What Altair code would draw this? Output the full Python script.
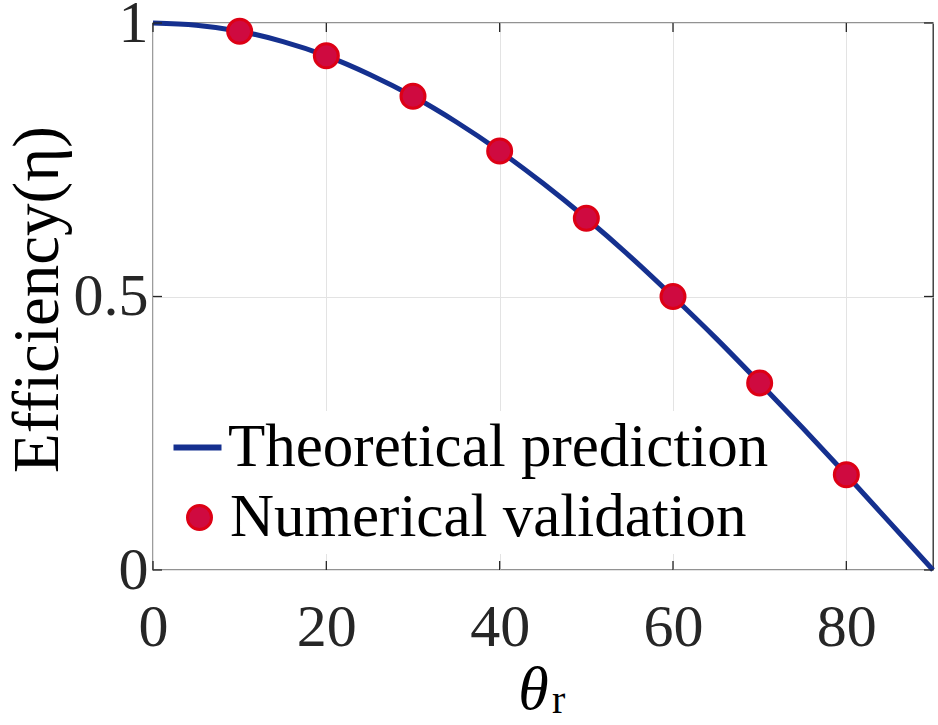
import altair as alt
import pandas as pd

# Theoretical curve
line_theta = [0, 5, 10, 15, 20, 25, 30, 35, 40, 45, 50, 55, 60, 65, 70, 75, 80, 85, 90]
line_eta = [1.000, 0.996, 0.985, 0.966, 0.940, 0.906, 0.866, 0.819, 0.766, 0.707,
            0.643, 0.574, 0.500, 0.423, 0.342, 0.259, 0.174, 0.087, 0.000]

# Numerical validation points
pt_theta = [10, 20, 30, 40, 50, 60, 70, 80]
pt_eta = [0.985, 0.940, 0.866, 0.766, 0.643, 0.500, 0.342, 0.174]

x_ticks = [0, 20, 40, 60, 80]
y_ticks = [0, 0.5, 1]

series_line = "Theoretical prediction"
series_pts = "Numerical validation"

W, H = 780, 547
FONT = "Liberation Serif"
BLUE = "#15308f"
RED_FILL = "#cf0a40"
RED_EDGE = "#dd0015"
AX = "#262626"

line_df = pd.DataFrame({"theta": line_theta, "eta": line_eta, "series": series_line})
pt_df = pd.DataFrame({"theta": pt_theta, "eta": pt_eta, "series": series_pts})
xt_df = pd.DataFrame({"theta": x_ticks})
yt_df = pd.DataFrame({"eta": y_ticks})
sub_df = pd.DataFrame({"t": ["r"]})

xscale = alt.Scale(domain=[0, 90], nice=False, zero=False)
yscale = alt.Scale(domain=[0, 1], nice=False)

x_axis = alt.Axis(values=x_ticks, title="θ", titleFont=FONT, titleFontSize=62,
                  titleFontStyle="italic", titleFontWeight="normal",
                  titleColor="black", titleBaseline="alphabetic",
                  titleX=380, titleY=138, domain=False, ticks=False,
                  labelFont=FONT, labelFontSize=60, labelColor="#262626",
                  labelFlush=False, labelOverlap=False, labelPadding=75,
                  labelBaseline="alphabetic",
                  grid=True, gridColor="#e3e3e3", gridWidth=1)
y_axis = alt.Axis(values=y_ticks, format="~g", title="Efficiency(η)", titleFont=FONT,
                  titleFontSize=65, titleFontWeight="normal", titleColor="black",
                  titleBaseline="alphabetic", titleAngle=270,
                  titleX=-96, titleY=276, domain=False, ticks=False,
                  labelFont=FONT, labelFontSize=60, labelColor="#262626",
                  labelFlush=False, labelOverlap=False, labelPadding=5,
                  grid=True, gridColor="#e3e3e3", gridWidth=1)

X = alt.X("theta:Q", scale=xscale, axis=x_axis)
Y = alt.Y("eta:Q", scale=yscale, axis=y_axis)

line = alt.Chart(line_df).mark_line(strokeWidth=5, interpolate="monotone").encode(
    x=X, y=Y,
    color=alt.Color("series:N", scale=alt.Scale(domain=[series_line], range=[BLUE]),
                    legend=alt.Legend(title=None, orient="none", legendX=8, legendY=388,
                                      symbolType="stroke", symbolSize=2304,
                                      symbolStrokeWidth=6, labelFont=FONT,
                                      labelFontSize=61, labelColor="black",
                                      labelLimit=0, labelOffset=0, padding=6,
                                      fillColor="white")),
)

pts = alt.Chart(pt_df).mark_point(shape="circle", filled=True, size=576, opacity=1,
                                  stroke=RED_EDGE, strokeWidth=3).encode(
    x=X, y=Y,
    fill=alt.Fill("series:N", scale=alt.Scale(domain=[series_pts], range=[RED_FILL]),
                  legend=alt.Legend(title=None, orient="none", legendX=10, legendY=458,
                                    symbolType="circle", symbolSize=576,
                                    symbolStrokeColor=RED_EDGE, symbolStrokeWidth=3,
                                    symbolOpacity=1, labelFont=FONT,
                                    labelFontSize=61, labelColor="black",
                                    labelLimit=0, labelOffset=0, padding=6,
                                    fillColor="white")),
)

tick_style = dict(color=AX, strokeWidth=1.3)
xt_bot = alt.Chart(xt_df).mark_rule(**tick_style).encode(
    x=X, y=alt.value(H), y2=alt.value(H - 9))
xt_top = alt.Chart(xt_df).mark_rule(**tick_style).encode(
    x=X, y=alt.value(0), y2=alt.value(9))
yt_left = alt.Chart(yt_df).mark_rule(**tick_style).encode(
    y=Y, x=alt.value(0), x2=alt.value(9))
yt_right = alt.Chart(yt_df).mark_rule(**tick_style).encode(
    y=Y, x=alt.value(W), x2=alt.value(W - 9))

sub = alt.Chart(sub_df).mark_text(font=FONT, fontSize=40, align="left",
                                  baseline="alphabetic", color="black").encode(
    text="t:N", x=alt.value(399), y=alt.value(690))

chart = alt.layer(line, pts, xt_bot, xt_top, yt_left, yt_right, sub).properties(
    width=W, height=H,
    autosize=alt.AutoSizeParams(type="none"),
    padding={"left": 153, "top": 23, "right": 5, "bottom": 155},
    background="white",
).configure_view(stroke=AX, strokeWidth=1.3)

chart.save("out.html", embed_options={"renderer": "svg", "actions": False})
